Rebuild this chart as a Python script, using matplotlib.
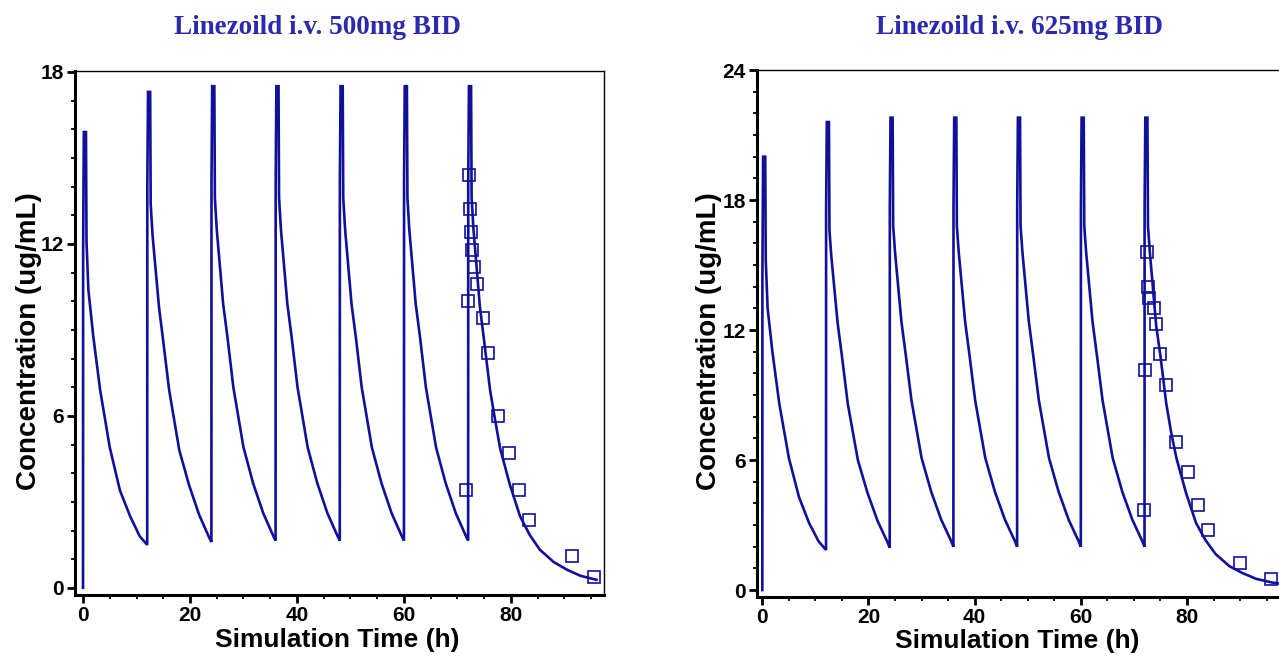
# Linezolid i.v. simulated concentration-time profiles vs observed data
import matplotlib
matplotlib.use('Agg')
import matplotlib.pyplot as plt
from matplotlib.ticker import MultipleLocator

# simulated profile, 500 mg BID
t_500 = [0, 0.02, 0.15, 0.55, 0.65, 1.0, 1.9, 3.2, 5.0, 6.9, 8.8, 10.6, 12.0,
         12.02, 12.15, 12.55, 12.65, 13.0, 14.2, 15.0, 16.1, 18.0, 19.8, 21.7, 23.6, 24.0,
         24.02, 24.15, 24.55, 24.65, 25.0, 26.2, 27.0, 28.1, 30.0, 31.8, 33.7, 35.6, 36.0,
         36.02, 36.15, 36.55, 36.65, 37.0, 38.2, 39.0, 40.1, 42.0, 43.8, 45.7, 47.6, 48.0,
         48.02, 48.15, 48.55, 48.65, 49.0, 50.2, 51.0, 52.1, 54.0, 55.8, 57.7, 59.6, 60.0,
         60.02, 60.15, 60.55, 60.65, 61.0, 62.2, 63.0, 64.1, 66.0, 67.8, 69.7, 71.6, 72.0,
         72.02, 72.15, 72.55, 72.65, 73.0, 74.2, 75.0, 76.1, 77.0, 78.0, 79.8, 81.7, 83.5,
         85.4, 88.0, 90.5, 93.0, 96.0]
c_500 = [0, 11.7, 15.9, 15.9, 12.1, 10.4, 8.8, 6.9, 4.9, 3.4, 2.5, 1.8, 1.5,
         14.0, 17.3, 17.3, 13.4, 12.3, 9.8, 8.6, 6.9, 4.8, 3.6, 2.55, 1.75, 1.6,
         14.2, 17.5, 17.5, 13.6, 12.5, 9.9, 8.75, 7.0, 4.9, 3.65, 2.6, 1.8, 1.65,
         14.2, 17.5, 17.5, 13.6, 12.5, 9.9, 8.75, 7.0, 4.9, 3.65, 2.6, 1.8, 1.65,
         14.2, 17.5, 17.5, 13.6, 12.5, 9.9, 8.75, 7.0, 4.9, 3.65, 2.6, 1.8, 1.65,
         14.2, 17.5, 17.5, 13.6, 12.5, 9.9, 8.75, 7.0, 4.9, 3.65, 2.6, 1.8, 1.65,
         14.2, 17.5, 17.5, 13.6, 12.5, 9.8, 8.6, 6.9, 5.9, 4.85, 3.6, 2.5, 1.85,
         1.33, 0.9, 0.63, 0.42, 0.28]

# observed data, 500 mg
obs_t_500 = [71.6, 71.9, 72.2, 72.3, 72.5, 72.7, 73.1, 73.6, 74.8, 75.7, 77.6, 79.6, 81.5, 83.4, 91.4, 95.5]
obs_c_500 = [3.4, 10.0, 14.4, 13.2, 12.4, 11.8, 11.2, 10.6, 9.4, 8.2, 6.0, 4.7, 3.4, 2.35, 1.12, 0.38]

# simulated profile, 625 mg BID
t_625 = [0, 0.02, 0.15, 0.55, 0.65, 1.0, 1.9, 3.2, 5.0, 6.9, 8.8, 10.6, 12.0,
         12.02, 12.15, 12.55, 12.65, 13.0, 14.2, 15.0, 16.1, 18.0, 19.8, 21.7, 23.6, 24.0,
         24.02, 24.15, 24.55, 24.65, 25.0, 26.2, 27.0, 28.1, 30.0, 31.8, 33.7, 35.6, 36.0,
         36.02, 36.15, 36.55, 36.65, 37.0, 38.2, 39.0, 40.1, 42.0, 43.8, 45.7, 47.6, 48.0,
         48.02, 48.15, 48.55, 48.65, 49.0, 50.2, 51.0, 52.1, 54.0, 55.8, 57.7, 59.6, 60.0,
         60.02, 60.15, 60.55, 60.65, 61.0, 62.2, 63.0, 64.1, 66.0, 67.8, 69.7, 71.6, 72.0,
         72.02, 72.15, 72.55, 72.65, 73.0, 74.2, 75.0, 76.1, 77.0, 78.0, 79.8, 81.7, 83.5,
         85.4, 88.0, 90.5, 93.0, 96.0, 98.0]
c_625 = [0, 14.5, 20.0, 20.0, 15.2, 13.0, 11.0, 8.6, 6.1, 4.3, 3.1, 2.25, 1.85,
         17.5, 21.6, 21.6, 16.6, 15.4, 12.3, 10.8, 8.6, 6.0, 4.5, 3.2, 2.2, 1.95,
         17.7, 21.8, 21.8, 16.8, 15.6, 12.4, 10.9, 8.75, 6.1, 4.55, 3.25, 2.25, 2.0,
         17.7, 21.8, 21.8, 16.8, 15.6, 12.4, 10.9, 8.75, 6.1, 4.55, 3.25, 2.25, 2.0,
         17.7, 21.8, 21.8, 16.8, 15.6, 12.4, 10.9, 8.75, 6.1, 4.55, 3.25, 2.25, 2.0,
         17.7, 21.8, 21.8, 16.8, 15.6, 12.4, 10.9, 8.75, 6.1, 4.55, 3.25, 2.25, 2.0,
         17.7, 21.8, 21.8, 16.8, 15.6, 12.2, 10.8, 8.6, 7.3, 6.1, 4.5, 3.1, 2.3,
         1.66, 1.1, 0.78, 0.52, 0.35, 0.28]

# observed data, 625 mg
obs_t_625 = [71.9, 72.1, 72.4, 72.7, 72.9, 73.7, 74.1, 75.0, 76.1, 78.0, 80.1, 82.0, 83.9, 90.0, 95.8]
obs_c_625 = [3.7, 10.15, 15.6, 14.0, 13.5, 13.0, 12.3, 10.9, 9.46, 6.83, 5.45, 3.92, 2.77, 1.24, 0.51]

line_col = '#10109a'
title_col = '#2a2aae'

fig = plt.figure(figsize=(12.79, 6.58), dpi=100)
W, H = 1279., 658.

ax1 = fig.add_axes([75/W, 1-595/H, 529/W, 524/H])
ax2 = fig.add_axes([757/W, 1-597/H, 525/W, 527/H])

def style_axes(ax, ymax, ystep, ybottom, xlim):
    ax.set_xlim(*xlim)
    ax.set_ylim(ybottom, ymax)
    ax.xaxis.set_major_locator(MultipleLocator(20))
    ax.xaxis.set_minor_locator(MultipleLocator(5))
    ax.yaxis.set_major_locator(MultipleLocator(ystep))
    ax.yaxis.set_minor_locator(MultipleLocator(1))
    ax.tick_params(which='major', direction='out', length=6, width=2, color='black', pad=2)
    ax.tick_params(which='minor', direction='out', length=3, width=1.3, color='black')
    for lab in ax.get_xticklabels() + ax.get_yticklabels():
        lab.set_fontfamily('Liberation Sans')
        lab.set_fontweight('bold')
        lab.set_fontsize(15)
    ax.spines['left'].set_linewidth(2.2)
    ax.spines['bottom'].set_linewidth(2.2)
    ax.spines['top'].set_linewidth(1.0)
    ax.spines['right'].set_linewidth(1.0)
    ax.set_xlabel('Simulation Time (h)', fontfamily='Liberation Sans', fontweight='bold', fontsize=19)
    ax.set_ylabel('Concentration (ug/mL)', fontfamily='Liberation Sans', fontweight='bold', fontsize=20)

ax1.plot(t_500, c_500, color=line_col, linewidth=1.9, solid_joinstyle='miter')
ax1.plot(obs_t_500, obs_c_500, linestyle='none', marker='s', markersize=8,
         markerfacecolor='none', markeredgecolor=line_col, markeredgewidth=1.2)
style_axes(ax1, 18.03, 6, -0.25, (-1.5, 97.4))
ax1.xaxis.set_label_coords(0.495, -0.063)
ax1.yaxis.set_label_coords(-0.062, 0.485)

ax2.plot(t_625, c_625, color=line_col, linewidth=1.9, solid_joinstyle='miter')
ax2.plot(obs_t_625, obs_c_625, linestyle='none', marker='s', markersize=8,
         markerfacecolor='none', markeredgecolor=line_col, markeredgewidth=1.2)
style_axes(ax2, 24, 6, -0.32, (-1.0, 97.9))
ax2.xaxis.set_label_coords(0.495, -0.06)
ax2.yaxis.set_label_coords(-0.066, 0.485)

# panel titles
fig.text(317/W, 1-27/H, 'Linezoild i.v. 500mg BID', ha='center', va='center',
         fontfamily='Liberation Serif', fontweight='bold', fontsize=19.5, color=title_col)
fig.text(1019/W, 1-27/H, 'Linezoild i.v. 625mg BID', ha='center', va='center',
         fontfamily='Liberation Serif', fontweight='bold', fontsize=19.5, color=title_col)

plt.savefig('out.png', dpi=100)
